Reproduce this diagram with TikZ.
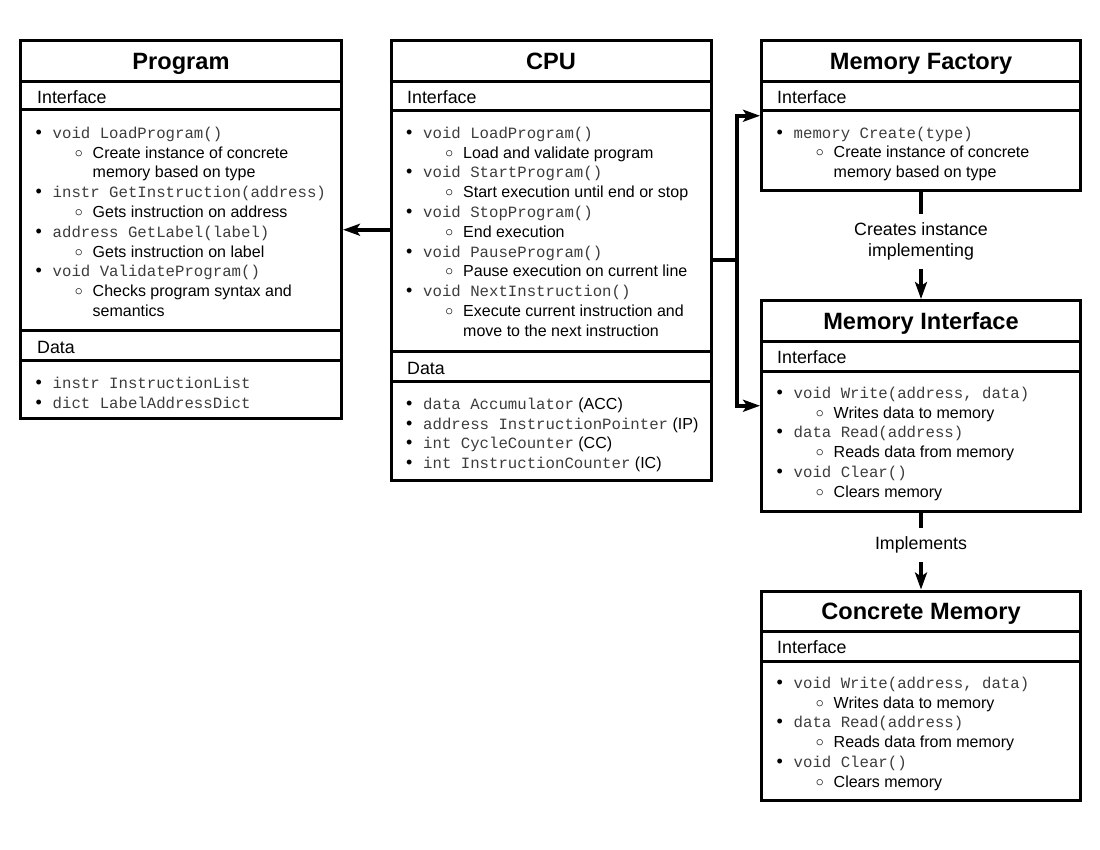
\documentclass[tikz,border=0pt]{standalone}
\usepackage{fontspec}
\setmainfont{Liberation Sans}
\setmonofont{Liberation Mono}
\newfontfamily\symfont{DejaVu Sans}
\usetikzlibrary{arrows.meta}

\definecolor{codegray}{RGB}{60,60,60}
\newcommand{\mono}[1]{{\ttfamily\fontsize{15.7}{19.8}\selectfont\color{codegray}#1}}
\newcommand{\bul}{\rule{0pt}{14pt}\makebox[17pt][l]{{\fontsize{18}{19.8}\selectfont\textbullet}}}
\newcommand{\subul}{\hspace*{37pt}\makebox[12pt]{\raisebox{-3pt}[0pt][0pt]{\symfont\fontsize{21}{19.8}\selectfont ◦}}\hspace*{8pt}}
\newcommand{\cont}{\hspace*{57pt}}

\tikzset{
  umlbox/.style={draw,line width=3pt,inner sep=0pt},
  sepline/.style={line width=3pt},
  title/.style={anchor=base,font=\fontsize{23.6}{28}\selectfont\bfseries},
  head/.style={anchor=base west,inner sep=0pt,font=\fontsize{17.8}{20}\selectfont},
  body/.style={anchor=north west,inner sep=0pt,align=left,font=\fontsize{16}{19.8}\selectfont},
  conn/.style={line width=4pt,-{Stealth[length=17pt,width=12pt,inset=4pt]}},
  lbl/.style={fill=white,align=center,inner xsep=4pt,font=\fontsize{17.8}{20.5}\selectfont}
}

\begin{document}
\begin{tikzpicture}[x=1pt,y=-1pt]
\useasboundingbox (0,0) rectangle (1100,850);

% boxes
\node[umlbox,minimum width=321pt,minimum height=377.5pt](prog) at (181,229.75){};
\node[umlbox,minimum width=320pt,minimum height=439pt](cpu) at (551,260.5){};
\node[umlbox,minimum width=319pt,minimum height=149.5pt](mfac) at (921,115.75){};
\node[umlbox,minimum width=319pt,minimum height=210.5pt](mint) at (921,405.75){};
\node[umlbox,minimum width=319pt,minimum height=209pt](cmem) at (921,695.5){};

% separators
\foreach \y in {82,110,330,360}
  \draw[sepline] (prog.west |- 0,\y) -- (prog.east |- 0,\y);
\foreach \y in {82,111,351,381}
  \draw[sepline] (cpu.west |- 0,\y) -- (cpu.east |- 0,\y);
\foreach \y in {82,111}
  \draw[sepline] (mfac.west |- 0,\y) -- (mfac.east |- 0,\y);
\foreach \y in {341,371}
  \draw[sepline] (mint.west |- 0,\y) -- (mint.east |- 0,\y);
\foreach \y in {631,661}
  \draw[sepline] (cmem.west |- 0,\y) -- (cmem.east |- 0,\y);

% titles and headers
\node[title](progtitle) at (181,69.5){Program};
\node[title](cputitle) at (551,69.5){CPU};
\node[title](mfactitle) at (921,69.5){Memory Factory};
\node[title](minttitle) at (921,329){Memory Interface};
\node[title](cmemtitle) at (921,619){Concrete Memory};

\node[head](progif) at (37,104){Interface};
\node[head](progdata) at (37,353){Data};
\node[head](cpuif) at (407,104){Interface};
\node[head](cpudata) at (407,374){Data};
\node[head](mfacif) at (777,104){Interface};
\node[head](mintif) at (777,363){Interface};
\node[head](cmemif) at (777,653){Interface};

% contents
\node[body](progops) at (35.5,124){\bul\mono{void LoadProgram()}\\
  \subul Create instance of concrete\\
  \cont memory based on type\\
  \bul\mono{instr GetInstruction(address)}\\
  \subul Gets instruction on address\\
  \bul\mono{address GetLabel(label)}\\
  \subul Gets instruction on label\\
  \bul\mono{void ValidateProgram()}\\
  \subul Checks program syntax and\\
  \cont semantics};
\node[body](progvars) at (35.5,374){\bul\mono{instr InstructionList}\\
  \bul\mono{dict LabelAddressDict}};

\node[body](cpuops) at (406,124){\bul\mono{void LoadProgram()}\\
  \subul Load and validate program\\
  \bul\mono{void StartProgram()}\\
  \subul Start execution until end or stop\\
  \bul\mono{void StopProgram()}\\
  \subul End execution\\
  \bul\mono{void PauseProgram()}\\
  \subul Pause execution on current line\\
  \bul\mono{void NextInstruction()}\\
  \subul Execute current instruction and\\
  \cont move to the next instruction};
\node[body](cpuvars) at (406,395){\bul\mono{data Accumulator} (ACC)\\
  \bul\mono{address InstructionPointer} (IP)\\
  \bul\mono{int CycleCounter} (CC)\\
  \bul\mono{int InstructionCounter} (IC)};

\node[body](mfacops) at (776.5,124){\bul\mono{memory Create(type)}\\
  \subul Create instance of concrete\\
  \cont memory based on type};

\node[body](mintops) at (776.5,384){\bul\mono{void Write(address, data)}\\
  \subul Writes data to memory\\
  \bul\mono{data Read(address)}\\
  \subul Reads data from memory\\
  \bul\mono{void Clear()}\\
  \subul Clears memory};

\node[body](cmemops) at (776.5,674){\bul\mono{void Write(address, data)}\\
  \subul Writes data to memory\\
  \bul\mono{data Read(address)}\\
  \subul Reads data from memory\\
  \bul\mono{void Clear()}\\
  \subul Clears memory};

% connectors
\draw[conn] (cpu.west |- prog.east) -- (prog.east);
\draw[conn] (cpu.east) -- ++(24,0) |- (mfac.west);
\draw[conn] (cpu.east) -- ++(24,0) |- (mint.west);
\draw[conn] (mfac.south) -- node[lbl,pos=0.46,inner ysep=9pt](creates){Creates instance\\implementing} (mint.north);
\draw[conn] (mint.south) -- node[lbl,pos=0.42,inner ysep=9pt](impl){Implements} (cmem.north);

\end{tikzpicture}
\end{document}
